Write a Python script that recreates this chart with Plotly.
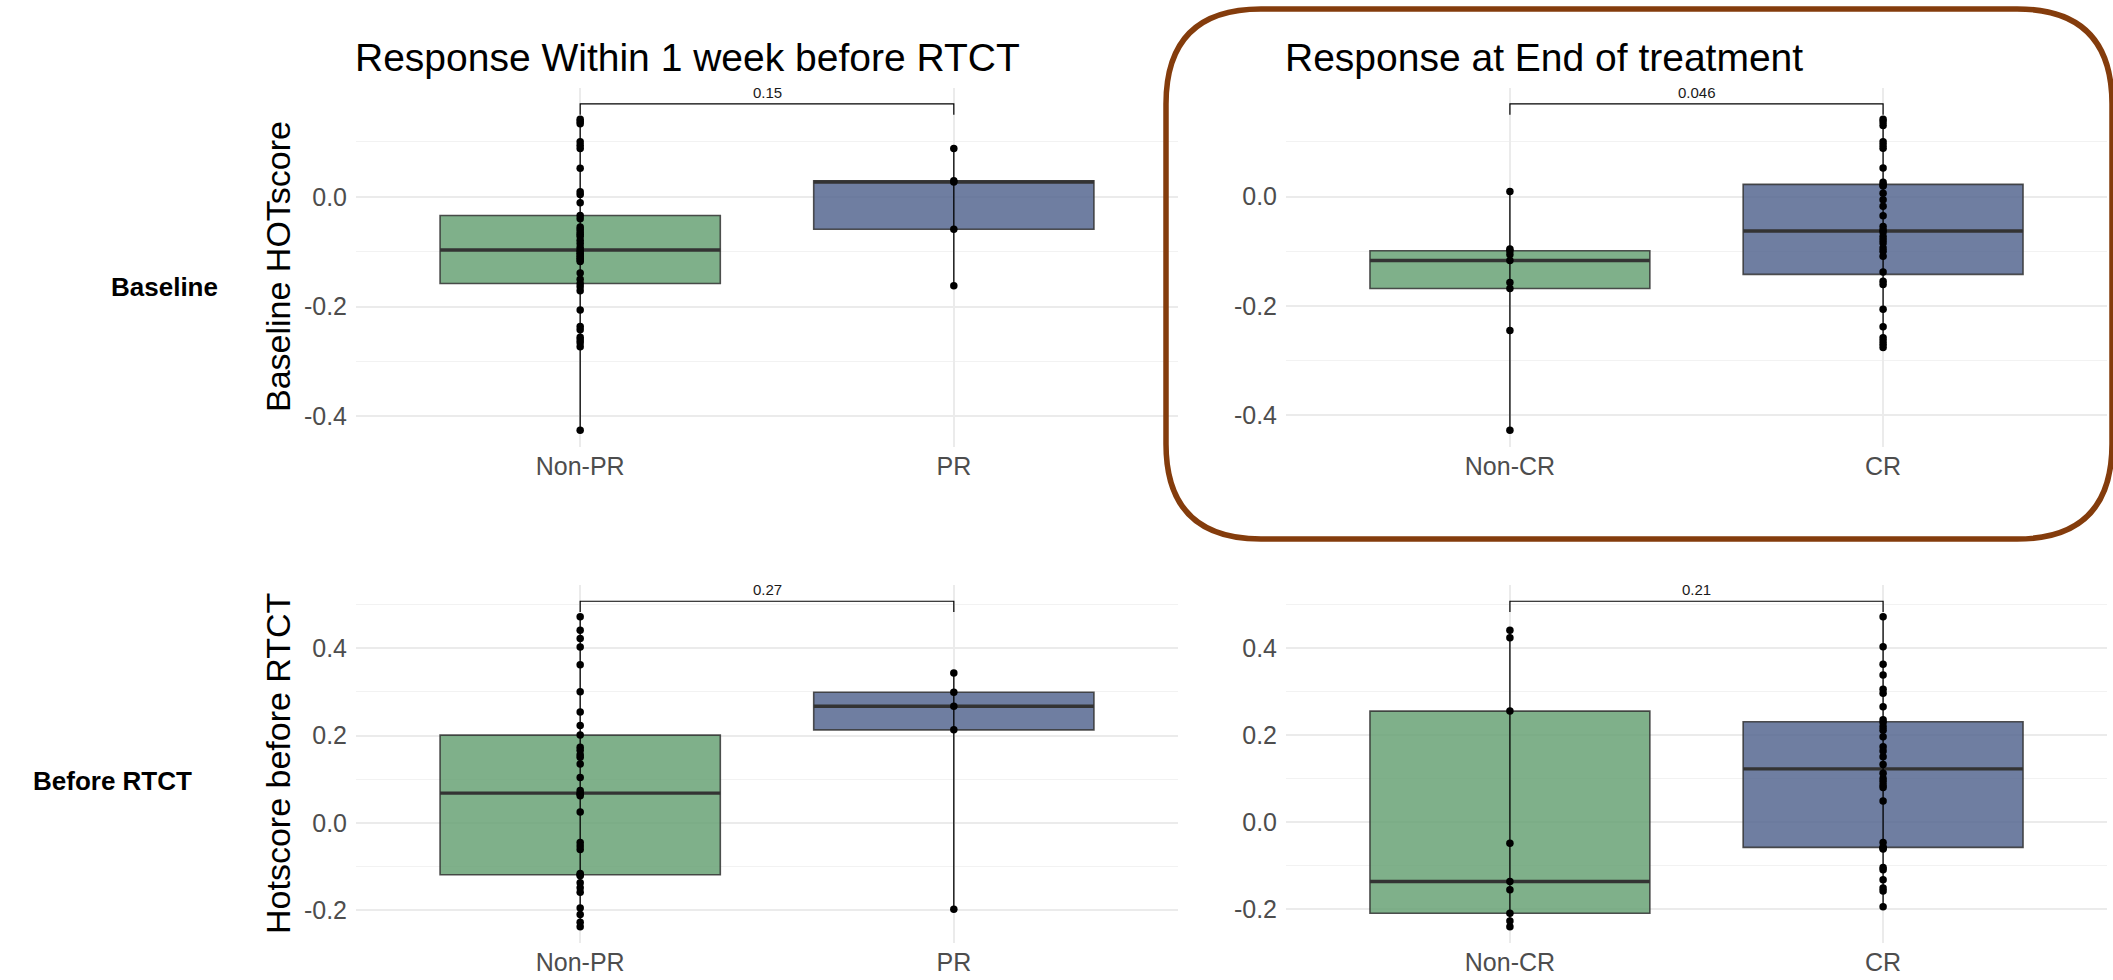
import numpy as np
import plotly.graph_objects as go

W, H = 2113, 980
FONT = "Liberation Sans, Arial, Helvetica, sans-serif"

# ---------------- data ----------------
groups_pr = ["Non-PR", "PR"]
groups_cr = ["Non-CR", "CR"]

base_nonpr = [0.141, 0.137, 0.133, 0.100, 0.094, 0.088, 0.052, 0.009, 0.004, -0.011,
              -0.034, -0.040, -0.055, -0.059, -0.064, -0.068, -0.072, -0.079, -0.085, -0.092,
              -0.097, -0.100, -0.103, -0.106, -0.109, -0.112, -0.115, -0.118, -0.139, -0.150,
              -0.158, -0.164, -0.171, -0.206, -0.236, -0.242, -0.256, -0.261, -0.266, -0.273,
              -0.425]
base_pr = [0.088, 0.029, 0.027, -0.059, -0.162]
base_noncr = [0.009, -0.096, -0.099, -0.106, -0.117, -0.157, -0.168, -0.245, -0.427]
base_cr = [0.141, 0.136, 0.130, 0.100, 0.094, 0.088, 0.052, 0.026, 0.021, 0.019,
           0.006, -0.006, -0.018, -0.035, -0.055, -0.061, -0.065, -0.073, -0.079, -0.085,
           -0.094, -0.100, -0.109, -0.138, -0.155, -0.161, -0.206, -0.238, -0.258, -0.264,
           -0.270, -0.276]

pre_nonpr = [0.472, 0.441, 0.422, 0.403, 0.362, 0.300, 0.254, 0.223, 0.201, 0.173,
             0.166, 0.156, 0.150, 0.135, 0.104, 0.074, 0.068, 0.066, 0.062, 0.025,
             -0.045, -0.053, -0.061, -0.116, -0.119, -0.121, -0.137, -0.149, -0.159, -0.195,
             -0.210, -0.228, -0.238]
pre_pr = [0.343, 0.299, 0.267, 0.213, -0.198]
pre_noncr = [0.441, 0.424, 0.255, -0.049, -0.137, -0.156, -0.210, -0.228, -0.241]
pre_cr = [-0.195, -0.159, -0.152, -0.133, -0.110, -0.105, -0.062, -0.060, -0.058, -0.047,
          0.048, 0.079, 0.085, 0.093, 0.100, 0.112, 0.132, 0.150, 0.163, 0.173,
          0.196, 0.211, 0.219, 0.229, 0.235, 0.265, 0.296, 0.305, 0.338, 0.363,
          0.403, 0.472]

p_values = ["0.15", "0.046", "0.27", "0.21"]
col_titles = ["Response Within 1 week before RTCT", "Response at End of treatment"]
row_labels = ["Baseline", "Before RTCT"]
y_titles = ["Baseline HOTscore", "Hotscore before RTCT"]
ticks_top = [-0.4, -0.2, 0.0]
ticks_bottom = [-0.2, 0.0, 0.2, 0.4]

# ---------------- style ----------------
FILL = ["rgba(104,162,117,0.85)", "rgba(86,103,144,0.85)"]
OUTLINE = "rgba(51,51,51,0.85)"
GRID = "#EBEBEB"
BOX_W = 0.75

# panel pixel geometry (left, right, top, bottom)
col_px = [(356, 1178), (1286, 2107)]
row_px = [(87.5, 446.5), (585, 943)]

panels = [
    dict(row=0, col=0, data=[base_nonpr, base_pr], cats=groups_pr, p=p_values[0], ticks=ticks_top),
    dict(row=0, col=1, data=[base_noncr, base_cr], cats=groups_cr, p=p_values[1], ticks=ticks_top),
    dict(row=1, col=0, data=[pre_nonpr, pre_pr], cats=groups_pr, p=p_values[2], ticks=ticks_bottom),
    dict(row=1, col=1, data=[pre_noncr, pre_cr], cats=groups_cr, p=p_values[3], ticks=ticks_bottom),
]

fig = go.Figure()
layout = dict(
    width=W, height=H, margin=dict(l=0, r=0, t=0, b=0, autoexpand=False),
    paper_bgcolor="white", plot_bgcolor="white", showlegend=False,
    font=dict(family=FONT, color="#4D4D4D"),
)
annotations = []

for i, pnl in enumerate(panels):
    k = i + 1
    xa = "x" if k == 1 else f"x{k}"
    ya = "y" if k == 1 else f"y{k}"
    allv = np.concatenate([np.array(d) for d in pnl["data"]])
    vmin, vmax = allv.min(), allv.max()
    span = vmax - vmin
    br_y = vmax + 0.05 * span
    tip = 0.035 * span
    lo, hi = vmin, br_y
    pad = 0.05 * (hi - lo)
    yr = [lo - pad, hi + pad]

    for g, vals in enumerate(pnl["data"]):
        arr = np.array(vals)
        q1, med, q3 = np.percentile(arr, [25, 50, 75])
        fig.add_trace(go.Box(
            x=[g], q1=[q1], median=[med], q3=[q3], lowerfence=[q1], upperfence=[q3],
            width=BOX_W, fillcolor=FILL[g], line=dict(color=OUTLINE, width=1.6),
            whiskerwidth=0, hoverinfo="skip", xaxis=xa, yaxis=ya,
        ))
        fig.add_trace(go.Scatter(
            x=[g - BOX_W / 2, g + BOX_W / 2], y=[med, med], mode="lines",
            line=dict(color="#333333", width=3.4), hoverinfo="skip", xaxis=xa, yaxis=ya,
        ))
        ys = np.sort(arr)
        fig.add_trace(go.Scatter(
            x=[g] * len(ys), y=ys, mode="lines+markers",
            line=dict(color="black", width=1.3), marker=dict(color="black", size=7.5),
            hoverinfo="skip", xaxis=xa, yaxis=ya,
        ))
    # significance bracket
    fig.add_trace(go.Scatter(
        x=[0, 0, 1, 1], y=[br_y - tip, br_y, br_y, br_y - tip], mode="lines",
        line=dict(color="black", width=1.2), hoverinfo="skip", xaxis=xa, yaxis=ya,
    ))
    annotations.append(dict(
        x=0.5, y=br_y, xref=xa, yref=ya, text=pnl["p"], showarrow=False,
        yanchor="bottom", yshift=1, font=dict(size=15, color="#1a1a1a", family=FONT),
    ))

    xl, xr = col_px[pnl["col"]]
    yt, yb = row_px[pnl["row"]]
    ticks = pnl["ticks"]
    step = ticks[1] - ticks[0]
    minor_vals = [round(t + step / 2, 3) for t in [ticks[0] - step] + ticks]
    layout["xaxis" if k == 1 else f"xaxis{k}"] = dict(
        domain=[xl / W, xr / W], range=[-0.6, 1.6], anchor=ya, automargin=False,
        tickmode="array", tickvals=[0, 1], ticktext=pnl["cats"],
        showgrid=True, gridcolor=GRID, gridwidth=1.5, zeroline=False, showline=False,
        ticks="", tickfont=dict(size=25, color="#4D4D4D"), ticklabelstandoff=2,
    )
    layout["yaxis" if k == 1 else f"yaxis{k}"] = dict(
        domain=[1 - yb / H, 1 - yt / H], range=yr, anchor=xa, automargin=False,
        tickmode="array", tickvals=ticks, ticktext=[f"{t:.1f}" for t in ticks],
        showgrid=True, gridcolor=GRID, gridwidth=1.5, zeroline=False, showline=False,
        ticks="", tickfont=dict(size=25, color="#4D4D4D"), ticklabelstandoff=8,
        minor=dict(tickmode="array", tickvals=minor_vals, showgrid=True,
                   gridcolor="#F2F2F2", gridwidth=1.2, ticks=""),
    )

# column titles
for c, t in enumerate(col_titles):
    annotations.append(dict(
        x=(col_px[c][0] - 3) / W, y=1 - 57 / H, xref="paper", yref="paper", text=t,
        showarrow=False, xanchor="left", yanchor="middle",
        font=dict(size=39, color="black", family=FONT),
    ))
# y-axis titles (left column)
for r, t in enumerate(y_titles):
    yc = (row_px[r][0] + row_px[r][1]) / 2
    annotations.append(dict(
        x=278 / W, y=1 - yc / H, xref="paper", yref="paper", text=t, textangle=-90,
        showarrow=False, xanchor="center", yanchor="middle",
        font=dict(size=34, color="black", family=FONT),
    ))
# row labels
row_lab_pos = [(164, 287), (112, 781)]
for r, t in enumerate(row_labels):
    x0, y0 = row_lab_pos[r]
    annotations.append(dict(
        x=x0 / W, y=1 - y0 / H, xref="paper", yref="paper", text=f"<b>{t}</b>",
        showarrow=False, xanchor="center", yanchor="middle",
        font=dict(size=26, color="black", family=FONT),
    ))
layout["annotations"] = annotations

# rounded highlight frame around top-right panel
L, R, T, B = 1166 / W, 2112 / W, 1 - 9 / H, 1 - 539 / H
rx, ry = 95 / W, 95 / H
path = (f"M {L+rx},{T} L {R-rx},{T} Q {R},{T} {R},{T-ry} L {R},{B+ry} "
        f"Q {R},{B} {R-rx},{B} L {L+rx},{B} Q {L},{B} {L},{B+ry} "
        f"L {L},{T-ry} Q {L},{T} {L+rx},{T} Z")
layout["shapes"] = [dict(type="path", path=path, xref="paper", yref="paper",
                         line=dict(color="#843C0C", width=5.5), fillcolor="rgba(0,0,0,0)")]

fig.update_layout(**layout)
fig.write_html(
    "out.html",
    config={"displayModeBar": False},
    post_script="document.body.style.margin='0px';document.body.style.overflow='hidden';",
)
